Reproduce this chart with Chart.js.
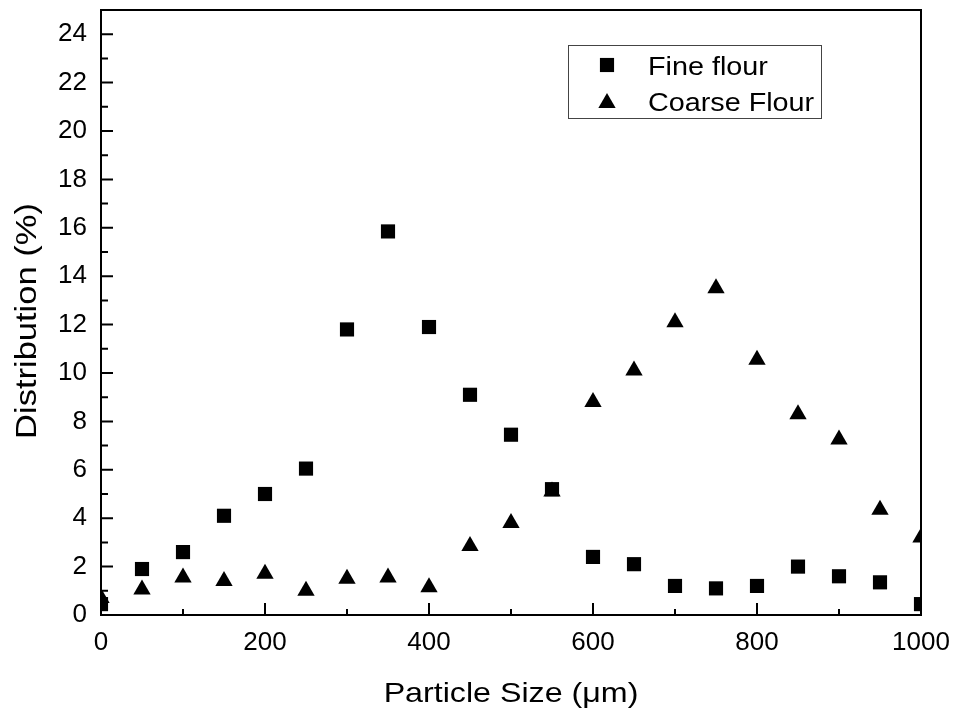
<!DOCTYPE html>
<html>
<head>
<meta charset="utf-8">
<title>Particle size distribution</title>
<script src="https://cdn.jsdelivr.net/npm/chart.js@4.4.1/dist/chart.umd.min.js"></script>
<style>
  html, body { margin: 0; padding: 0; background: #fff; }
  #wrap { width: 955px; height: 710px; }
</style>
</head>
<body>
<div id="wrap"><canvas id="sizeChart" width="955" height="710"></canvas></div>
<script>
// sieve sizes (um) and % retained for each flour
const particleSize = [0, 50, 100, 150, 200, 250, 300, 350, 400, 450, 500,
  550, 600, 650, 700, 750, 800, 850, 900, 950, 1000];
const fineFlour = [0.45, 1.9, 2.6, 4.1, 5.0, 6.05, 11.8, 15.85, 11.9, 9.1, 7.45,
  5.2, 2.4, 2.1, 1.2, 1.1, 1.2, 2.0, 1.6, 1.35, 0.45];
const coarseFlour = [0.7, 1.05, 1.55, 1.4, 1.7, 1.0, 1.5, 1.55, 1.15, 2.85, 3.8,
  5.1, 8.8, 10.1, 12.1, 13.5, 10.55, 8.3, 7.25, 4.35, 3.2];

const xMajor = [0, 200, 400, 600, 800, 1000];
const xMinor = [100, 300, 500, 700, 900];
const yMajor = [0, 2, 4, 6, 8, 10, 12, 14, 16, 18, 20, 22, 24];
const yMinor = [1, 3, 5, 7, 9, 11, 13, 15, 17, 19, 21, 23];

const xTitle = "Particle Size (\u03bcm)";
const yTitle = "Distribution (%)";

const FONT = 'Arial, "Liberation Sans", sans-serif';
const WIDE = 1.15; // titles and legend are set a bit wide
const ctx = document.getElementById("sizeChart").getContext("2d");

const toPoints = ys => ys.map((y, i) => ({ x: particleSize[i], y }));

function wideText(c, text, x, y, align, rot) {
  c.save();
  c.translate(x, y);
  if (rot) c.rotate(rot);
  c.scale(WIDE, 1);
  c.textAlign = align;
  c.fillText(text, 0, 0);
  c.restore();
}

// box around the plot, inward ticks on the bottom and left axes, axis titles
const framePlugin = {
  id: "frame",
  afterDatasetsDraw(chart) {
    const { ctx, chartArea: a, scales: { x, y } } = chart;
    ctx.save();
    ctx.strokeStyle = "#000";
    ctx.lineWidth = 2;
    ctx.strokeRect(a.left, a.top, a.right - a.left, a.bottom - a.top);
    ctx.beginPath();
    const xtick = (vals, len) => {
      vals.forEach(v => {
        const px = x.getPixelForValue(v);
        ctx.moveTo(px, a.bottom);
        ctx.lineTo(px, a.bottom - len);
      });
    };
    const ytick = (vals, len) => {
      vals.forEach(v => {
        const py = y.getPixelForValue(v);
        ctx.moveTo(a.left, py);
        ctx.lineTo(a.left + len, py);
      });
    };
    xtick(xMajor, 12);
    xtick(xMinor, 6);
    ytick(yMajor, 12);
    ytick(yMinor, 7);
    ctx.stroke();

    ctx.fillStyle = "#000";
    ctx.textBaseline = "alphabetic";
    ctx.font = "28px " + FONT;
    wideText(ctx, xTitle, (a.left + a.right) / 2, 702, "center");
    ctx.font = "30px " + FONT;
    wideText(ctx, yTitle, 36, 321, "center", -Math.PI / 2);
    ctx.restore();
  }
};

// framed legend in the upper right of the plot
const legendBox = {
  id: "legendBox",
  afterDraw(chart) {
    const { ctx } = chart;
    const left = 568, top = 45, w = 253, h = 73;
    ctx.save();
    ctx.strokeStyle = "#444";
    ctx.lineWidth = 1;
    ctx.strokeRect(left + 0.5, top + 0.5, w, h);
    ctx.font = "25px " + FONT;
    ctx.fillStyle = "#000";
    ctx.textBaseline = "alphabetic";
    chart.data.datasets.forEach((ds, i) => {
      const cy = top + 20 + i * 36;
      Chart.helpers.drawPoint(ctx, {
        pointStyle: ds.pointStyle,
        radius: ds.pointRadius,
        borderWidth: 0,
        rotation: 0
      }, 607, cy + (ds.pointStyle === "triangle" ? 2 : 0));
      wideText(ctx, ds.label, 648, cy + 9.5, "left");
    });
    ctx.restore();
  }
};

const noPad = s => {
  s.paddingLeft = 0;
  s.paddingRight = 0;
  s.paddingTop = 0;
  s.paddingBottom = 0;
};

new Chart(ctx, {
  type: "scatter",
  data: {
    datasets: [{
      label: "Fine flour",
      data: toPoints(fineFlour),
      pointStyle: "rect",
      pointRadius: 10,
      pointBorderWidth: 0,
      backgroundColor: "#000",
      borderColor: "#000",
      clip: 0
    }, {
      label: "Coarse Flour",
      data: toPoints(coarseFlour),
      pointStyle: "triangle",
      pointRadius: 10,
      pointBorderWidth: 0,
      backgroundColor: "#000",
      borderColor: "#000",
      clip: 0
    }]
  },
  options: {
    responsive: false,
    animation: false,
    devicePixelRatio: 1,
    layout: { padding: { left: 0, right: 34, top: 10, bottom: 0 } },
    plugins: {
      legend: { display: false },
      tooltip: { enabled: false }
    },
    scales: {
      x: {
        type: "linear",
        min: 0,
        max: 1000,
        afterFit: s => { s.height = 95; noPad(s); },
        afterBuildTicks: s => { s.ticks = xMajor.map(v => ({ value: v })); },
        grid: { display: false, drawTicks: false },
        border: { display: false },
        ticks: {
          color: "#000",
          font: { family: FONT, size: 26 },
          padding: 12,
          maxRotation: 0,
          callback: v => String(v)
        }
      },
      y: {
        type: "linear",
        min: 0,
        max: 25,
        afterFit: s => { s.width = 101; noPad(s); },
        afterBuildTicks: s => { s.ticks = yMajor.map(v => ({ value: v })); },
        grid: { display: false, drawTicks: false },
        border: { display: false },
        ticks: {
          color: "#000",
          font: { family: FONT, size: 26 },
          padding: 14,
          callback: v => String(v)
        }
      }
    }
  },
  plugins: [framePlugin, legendBox]
});
</script>
</body>
</html>
